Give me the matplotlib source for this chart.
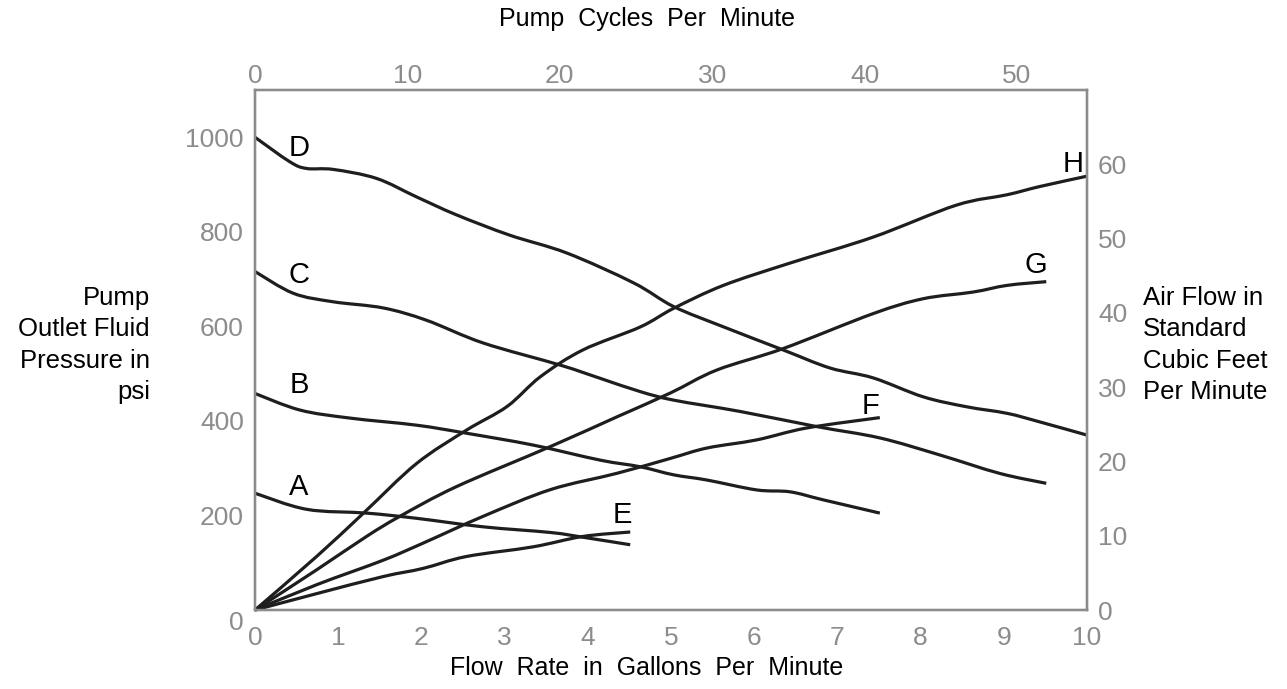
import matplotlib
matplotlib.use("Agg")
import matplotlib.pyplot as plt
import matplotlib.transforms as mtransforms
from matplotlib.path import Path
from matplotlib.patches import PathPatch
import numpy as np

plt.rcParams['font.family'] = ['Liberation Sans', 'DejaVu Sans']

# Outlet fluid pressure (psi) vs flow rate (gpm) at four air inlet pressures
gpm_a = [0, 0.62, 1.34, 1.94, 2.74, 3.55, 3.94, 4.51]
psi_a = [247, 213, 205, 194, 176, 164, 154, 138]

gpm_b = [0, 0.54, 1.14, 1.94, 2.54, 3.34, 4.15, 4.63, 5.03, 5.43, 6.03, 6.43, 6.83, 7.51]
psi_b = [458, 423, 406, 391, 374, 349, 317, 303, 286, 275, 254, 250, 233, 205]

gpm_c = [0, 0.46, 0.94, 1.54, 2.06, 2.74, 3.67, 4.15, 4.63, 5.03, 5.83, 6.75, 7.51, 8.23, 8.95, 9.51]
psi_c = [716, 670, 652, 639, 613, 565, 518, 490, 462, 444, 420, 388, 364, 328, 289, 268]

gpm_d = [0, 0.42, 0.62, 0.94, 1.46, 1.94, 2.42, 3.06, 3.75, 4.55, 5.03, 5.63, 6.35, 6.91,
         7.43, 8.03, 8.55, 9.04, 9.43, 10]
psi_d = [1000, 948, 934, 932, 913, 874, 836, 793, 755, 692, 642, 599, 550, 512,
         491, 451, 430, 416, 398, 370]

# Air consumption (scfm) vs flow rate (gpm)
gpm_e = [0, 0.74, 1.54, 2.02, 2.54, 3.34, 3.94, 4.51]
scfm_e = [0, 2.2, 4.5, 5.6, 7.2, 8.5, 9.9, 10.5]

gpm_f = [0, 0.74, 1.54, 2.02, 2.74, 3.55, 4.35, 4.99, 5.43, 6.03, 6.63, 7.51]
scfm_f = [0, 3.4, 6.7, 9.0, 12.6, 16.2, 18.4, 20.4, 21.8, 22.9, 24.5, 25.9]

gpm_g = [0, 0.74, 1.34, 1.74, 2.42, 3.55, 4.35, 4.99, 5.55, 6.35, 7.43, 8.03, 8.63, 9.04, 9.51]
scfm_g = [0, 5.4, 9.9, 12.6, 16.6, 22.0, 26.0, 29.2, 32.3, 35.2, 39.9, 41.9, 42.8, 43.7, 44.2]

gpm_h = [0, 0.74, 1.30, 1.94, 2.54, 3.03, 3.43, 3.94, 4.63, 5.03, 5.63, 6.43, 7.43, 8.43,
         9.04, 9.43, 10]
scfm_h = [0, 7.2, 13.0, 19.7, 24.2, 27.4, 31.4, 35.0, 38.1, 40.6, 43.7, 46.7, 50.2, 54.5,
          55.9, 57.0, 58.4]

# curve letters and where they sit
pressure_labels = [("A", 0.53, 260), ("B", 0.53, 475), ("C", 0.53, 708), ("D", 0.53, 977)]
air_labels = [("E", 4.41, 12.8), ("F", 7.40, 27.5), ("G", 9.39, 46.4), ("H", 9.83, 60.1)]

gpm_ticks = list(range(0, 11))
psi_ticks = [200, 400, 600, 800, 1000]
scfm_ticks = [0, 10, 20, 30, 40, 50, 60]
cpm_ticks = [0, 10, 20, 30, 40, 50]

LINE = "#1e1e1e"
GRAY = "#8c8c8c"


def smooth_curve(x, y):
    """Bezier path through the given points (Catmull-Rom tangents)."""
    pts = np.column_stack([x, y]).astype(float)
    n = len(pts)
    verts = [pts[0]]
    codes = [Path.MOVETO]
    for i in range(n - 1):
        p0 = pts[i - 1] if i > 0 else pts[i]
        p1, p2 = pts[i], pts[i + 1]
        p3 = pts[i + 2] if i + 2 < n else pts[i + 1]
        verts += [p1 + (p2 - p0) / 6, p2 - (p3 - p1) / 6, p2]
        codes += [Path.CURVE4] * 3
    return Path(verts, codes)


fig = plt.figure(figsize=(12.87, 6.89), dpi=100)
ax = fig.add_axes([255 / 1287, 1 - 610 / 689, 832 / 1287, 520 / 689])
ax_r = ax.twinx()
ax_t = ax.twiny()

ax.set_xlim(0, 10)
ax.set_ylim(0, 1100)
ax_r.set_ylim(0, 70)
ax_t.set_xlim(0, 54.6)

for a in (ax, ax_r, ax_t):
    for s in a.spines.values():
        s.set_color(GRAY)
        s.set_linewidth(1.6)
    a.tick_params(length=0, labelcolor=GRAY, labelsize=19)

ax.set_xticks(gpm_ticks)
ax.set_yticks(psi_ticks)
ax_r.set_yticks(scfm_ticks)
ax_t.set_xticks(cpm_ticks)
ax.tick_params(axis="x", pad=11.5)
ax.tick_params(axis="y", pad=8)
ax_r.tick_params(axis="y", pad=8)
ax_t.tick_params(axis="x", pad=1.5)

# the left zero sits a little below its tick
zero_tf = mtransforms.offset_copy(ax.get_yaxis_transform(), fig=fig, x=-8, y=-9.5, units="points")
ax.text(0, 0, "0", transform=zero_tf, ha="right", va="center", color=GRAY, fontsize=19)

lw = 2.3
for x, y in [(gpm_a, psi_a), (gpm_b, psi_b), (gpm_c, psi_c), (gpm_d, psi_d)]:
    ax.add_patch(PathPatch(smooth_curve(x, y), fill=False, ec=LINE, lw=lw,
                           capstyle="butt", clip_on=False))
for x, y in [(gpm_e, scfm_e), (gpm_f, scfm_f), (gpm_g, scfm_g), (gpm_h, scfm_h)]:
    ax_r.add_patch(PathPatch(smooth_curve(x, y), fill=False, ec=LINE, lw=lw,
                             capstyle="butt", clip_on=False))

for t, x, y in pressure_labels:
    ax.text(x, y, t, fontsize=21, ha="center", va="center", color="black")
for t, x, y in air_labels:
    ax_r.text(x, y, t, fontsize=21, ha="center", va="center", color="black")

fig.text(647 / 1287, 1 - 668 / 689, "Flow  Rate  in  Gallons  Per  Minute",
         ha="center", va="center", fontsize=18)
fig.text(647 / 1287, 1 - 19 / 689, "Pump  Cycles  Per  Minute",
         ha="center", va="center", fontsize=18)
fig.text(150 / 1287, 1 - 345 / 689, "Pump\nOutlet Fluid\nPressure in\npsi",
         ha="right", va="center", fontsize=18.5, linespacing=1.39)
fig.text(1143 / 1287, 1 - 345 / 689, "Air Flow in\nStandard\nCubic Feet\nPer Minute",
         ha="left", va="center", fontsize=18.5, linespacing=1.39)

fig.savefig("out.png", dpi=100)
